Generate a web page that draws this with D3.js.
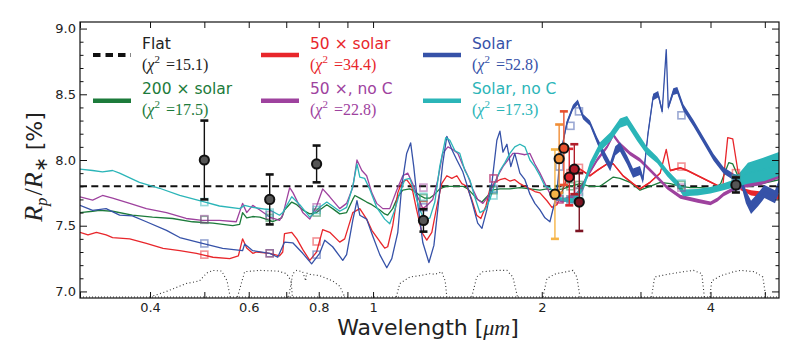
<!DOCTYPE html>
<html>
<head>
<meta charset="utf-8">
<script src="https://cdn.jsdelivr.net/npm/d3@7"></script>
<style>
  body { margin: 0; background: #fff; }
  text { font-family: "DejaVu Sans", sans-serif; }
</style>
</head>
<body>
<div id="chart"></div>
<script>
// model spectra: [wavelength (um), Rp/R* (%), half-width of the noisy band]
const green200 = [[0.300,7.60],[0.316,7.61],[0.325,7.617],[0.343,7.61],[0.372,7.58],[0.404,7.565],[0.439,7.555],[0.476,7.53],[0.518,7.52],[0.562,7.50],[0.578,7.51],[0.585,7.60],[0.595,7.56],[0.610,7.57],[0.628,7.565],[0.654,7.54],[0.662,7.53],[0.687,7.56],[0.695,7.62],[0.716,7.68],[0.731,7.66],[0.749,7.62],[0.771,7.59],[0.793,7.60],[0.803,7.62],[0.827,7.66],[0.847,7.63],[0.872,7.59],[0.897,7.60],[0.920,7.70],[0.928,7.73],[0.947,7.71],[0.974,7.68],[0.995,7.66],[1.028,7.62],[1.049,7.59],[1.062,7.58],[1.084,7.63],[1.107,7.72],[1.130,7.77],[1.163,7.78],[1.187,7.76],[1.212,7.73],[1.237,7.71],[1.263,7.71],[1.289,7.74],[1.315,7.78],[1.348,7.80],[1.400,7.80],[1.446,7.80],[1.476,7.78],[1.506,7.74],[1.537,7.70],[1.564,7.68],[1.596,7.72],[1.630,7.77],[1.684,7.78],[1.754,7.78],[1.828,7.79],[1.905,7.78],[1.985,7.77],[2.043,7.78],[2.111,7.77],[2.182,7.78],[2.246,7.80],[2.340,7.82],[2.438,7.80],[2.541,7.80],[2.683,7.87],[2.758,7.86],[2.874,7.83],[2.994,7.77],[3.120,7.80],[3.253,7.83],[3.391,7.82],[3.534,7.80],[3.683,7.79],[3.840,7.79],[4.051,7.78],[4.170,7.82],[4.311,7.98],[4.383,7.97],[4.475,7.88],[4.531,7.80],[4.725,7.80],[4.930,7.82],[5.30,7.85]];

const red50 = [[0.300,7.45],[0.310,7.43],[0.321,7.45],[0.334,7.43],[0.343,7.41],[0.368,7.40],[0.394,7.365],[0.422,7.327],[0.452,7.31],[0.484,7.29],[0.518,7.26],[0.555,7.25],[0.575,7.27],[0.585,7.40],[0.595,7.33],[0.610,7.29],[0.620,7.30],[0.654,7.29],[0.681,7.27],[0.690,7.30],[0.695,7.44],[0.716,7.45],[0.731,7.40],[0.749,7.32],[0.771,7.236],[0.793,7.30],[0.813,7.47],[0.837,7.45],[0.872,7.375],[0.890,7.40],[0.920,7.60],[0.947,7.63],[0.974,7.55],[0.995,7.465],[1.028,7.38],[1.049,7.33],[1.062,7.34],[1.084,7.50],[1.107,7.75],[1.125,7.83],[1.148,7.85],[1.172,7.80],[1.196,7.62],[1.222,7.45],[1.247,7.39],[1.273,7.45],[1.300,7.65],[1.326,7.82],[1.354,7.88],[1.382,7.86],[1.411,7.88],[1.440,7.82],[1.470,7.80],[1.500,7.70],[1.531,7.58],[1.557,7.555],[1.590,7.65],[1.616,7.78],[1.650,7.83],[1.684,7.85],[1.719,7.86],[1.754,7.84],[1.790,7.85],[1.828,7.82],[1.866,7.80],[1.905,7.78],[1.944,7.76],[1.985,7.75],[2.043,7.69],[2.085,7.64],[2.129,7.66],[2.182,7.78,0.007],[2.246,7.92,0.007],[2.340,7.93,0.007],[2.438,7.88,0.007],[2.510,7.92,0.007],[2.616,7.97,0.007],[2.683,7.97,0.007],[2.792,7.88,0.007],[2.910,7.82,0.007],[2.994,7.78,0.007],[3.120,7.83,0.007],[3.253,7.90,0.007],[3.335,8.08],[3.391,7.92,0.007],[3.534,7.94,0.007],[3.637,7.92,0.007],[3.840,7.87,0.007],[4.051,7.82,0.007],[4.205,7.79],[4.293,8.17],[4.383,8.16],[4.475,7.92],[4.531,7.78,0.01],[4.725,7.75,0.02],[4.930,7.74,0.02],[5.146,7.73,0.02],[5.30,7.72,0.02]];

const purple50noC = [[0.300,7.72],[0.316,7.695],[0.329,7.73],[0.343,7.71],[0.368,7.67],[0.394,7.63],[0.428,7.60],[0.464,7.555],[0.496,7.54],[0.532,7.54],[0.570,7.53],[0.585,7.67],[0.595,7.60],[0.610,7.655],[0.628,7.62],[0.654,7.566],[0.681,7.54],[0.690,7.58],[0.710,7.79],[0.720,7.75],[0.749,7.60],[0.771,7.55],[0.793,7.65],[0.813,7.78],[0.837,7.72],[0.872,7.63],[0.897,7.67],[0.920,7.79],[0.936,8.00],[0.955,7.92],[0.974,7.88],[0.995,7.75],[1.015,7.67],[1.041,7.63],[1.071,7.63],[1.102,7.77],[1.130,7.88],[1.153,7.90],[1.177,7.82],[1.201,7.72],[1.227,7.63],[1.252,7.66],[1.278,7.70],[1.305,7.85],[1.331,8.05],[1.360,8.10],[1.388,8.08],[1.417,8.05],[1.446,7.96],[1.476,7.88],[1.506,7.78],[1.537,7.70],[1.570,7.67],[1.603,7.72],[1.636,7.80],[1.670,7.88],[1.705,7.95],[1.740,8.00],[1.776,8.05],[1.813,8.05],[1.866,8.04],[1.905,8.05],[1.944,7.97],[1.985,7.90],[2.043,7.79],[2.094,7.70],[2.182,7.69,0.015],[2.310,7.74,0.015],[2.408,7.87,0.015],[2.510,8.00,0.015],[2.616,8.10,0.015],[2.683,8.19,0.015],[2.758,8.12,0.015],[2.874,8.05,0.015],[2.994,8.00,0.015],[3.160,7.90,0.015],[3.349,7.79,0.015],[3.534,7.72,0.015],[3.792,7.69,0.015],[4.000,7.67,0.015],[4.118,7.70,0.015],[4.222,7.74,0.015],[4.401,7.78,0.015],[4.626,7.82,0.03],[4.930,7.85,0.04],[5.30,7.90,0.04]];

const blueSolar = [[0.300,7.655],[0.316,7.617],[0.334,7.63],[0.353,7.58],[0.372,7.575],[0.394,7.53],[0.428,7.465],[0.452,7.41],[0.496,7.365],[0.539,7.327],[0.585,7.31],[0.590,7.36],[0.610,7.31],[0.654,7.29],[0.676,7.26],[0.695,7.375],[0.719,7.37],[0.749,7.29],[0.777,7.21],[0.803,7.29],[0.820,7.39],[0.847,7.34],[0.883,7.236],[0.897,7.28],[0.920,7.54],[0.936,7.69],[0.947,7.58],[0.974,7.55],[0.999,7.42],[1.028,7.28],[1.058,7.18],[1.080,7.25],[1.107,7.45],[1.125,7.80],[1.148,8.05],[1.167,8.13],[1.182,7.95],[1.201,7.67],[1.227,7.37],[1.258,7.22],[1.284,7.35],[1.305,7.63],[1.331,7.97],[1.354,8.18],[1.382,8.08],[1.411,8.00],[1.446,7.91],[1.476,7.79],[1.506,7.66],[1.537,7.52],[1.564,7.48],[1.596,7.62],[1.630,7.83],[1.663,8.15],[1.684,8.22],[1.705,8.06],[1.733,8.12],[1.761,7.95],[1.790,8.05],[1.828,7.90],[1.866,7.85],[1.905,7.74],[1.944,7.67],[1.985,7.62],[2.026,7.56],[2.068,7.53],[2.129,7.75,0.015],[2.155,8.02,0.015],[2.217,8.28,0.02],[2.273,8.40,0.02],[2.319,8.44,0.02],[2.369,8.33,0.02],[2.438,8.28,0.02],[2.510,8.15,0.025],[2.573,8.05,0.035],[2.649,7.95,0.035],[2.705,8.07,0.035],[2.758,8.10,0.035],[2.839,8.00,0.035],[2.910,7.90,0.035],[2.994,7.92,0.035],[3.031,7.85,0.03],[3.094,8.20,0.025],[3.160,8.48,0.025],[3.226,8.50,0.025],[3.280,8.37,0.02],[3.335,8.84,0.005],[3.363,8.40,0.02],[3.433,8.52,0.025],[3.490,8.53,0.025],[3.578,8.40,0.025],[3.730,8.28,0.025],[3.887,8.15,0.025],[4.051,8.02,0.025],[4.222,7.92,0.025],[4.401,7.87,0.025],[4.531,7.845,0.03],[4.626,7.72,0.05],[4.725,7.64,0.05],[4.867,7.70,0.05],[4.993,7.76,0.05],[5.213,7.72,0.05],[5.30,7.80,0.05]];

const cyanSolarNoC = [[0.300,7.93],[0.316,7.92],[0.329,7.91],[0.343,7.92],[0.353,7.90],[0.383,7.83],[0.416,7.785],[0.452,7.73],[0.496,7.685],[0.532,7.65],[0.578,7.63],[0.590,7.655],[0.610,7.64],[0.654,7.62],[0.681,7.58],[0.690,7.60],[0.716,7.72],[0.740,7.66],[0.771,7.565],[0.803,7.64],[0.827,7.68],[0.872,7.61],[0.897,7.64],[0.920,7.80],[0.936,7.97],[0.947,7.87],[0.966,7.86],[0.986,7.78],[1.015,7.64],[1.049,7.55],[1.071,7.515],[1.093,7.62],[1.116,7.75],[1.139,7.85],[1.163,7.86],[1.187,7.75],[1.212,7.62],[1.237,7.54],[1.263,7.56],[1.289,7.68],[1.315,7.95],[1.348,8.17],[1.371,8.15],[1.400,8.07],[1.428,8.05],[1.458,7.92],[1.488,7.85],[1.518,7.72],[1.551,7.60],[1.583,7.62],[1.616,7.70],[1.650,7.82],[1.684,7.92],[1.719,7.98],[1.754,8.05],[1.790,8.10],[1.828,8.12],[1.866,8.10],[1.905,8.00],[1.944,7.95],[1.985,7.88],[2.026,7.80],[2.068,7.79],[2.129,7.72],[2.182,7.70,0.015],[2.273,7.69,0.02],[2.369,7.79,0.025],[2.438,7.95,0.035],[2.541,8.10,0.035],[2.649,8.175,0.035],[2.758,8.28,0.035],[2.839,8.30,0.035],[2.959,8.18,0.035],[3.081,8.07,0.03],[3.213,8.00,0.025],[3.349,7.90,0.025],[3.490,7.82,0.025],[3.578,7.75,0.025],[3.792,7.755,0.025],[4.000,7.77,0.025],[4.170,7.79,0.025],[4.401,7.82,0.03],[4.665,7.90,0.08],[4.993,7.93,0.09],[5.30,7.97,0.09]];

const flatLevel = 7.8;

// binned model values at the observed bands
const bandWl = [0.50, 0.654, 0.793, 1.23, 1.64, 2.15, 2.25, 2.33, 3.55, 4.44];
const binGreen = [7.545, 7.56, 7.60, 7.71, 7.77, 7.78, 7.80, 7.81, 7.81, 7.85];
const binRed = [7.28, 7.29, 7.38, 7.66, 7.86, 7.70, 7.90, 7.94, 7.95, 7.90];
const binPurple = [7.55, 7.58, 7.64, 7.79, 7.86, 7.70, 7.70, 7.76, 7.79, 7.82];
const binBlue = [7.365, 7.29, 7.28, 7.64, 7.78, 7.95, 8.26, 8.37, 8.34, 7.80];
const binCyan = [7.68, 7.60, 7.62, 7.72, 7.73, 7.72, 7.70, 7.72, 7.82, 7.86];

// photometric measurements
const obsWl = [0.50, 0.654, 0.793, 1.23, 4.44];
const obsVal = [8.00, 7.70, 7.97, 7.54, 7.81];
const obsErr = [0.30, 0.19, 0.14, 0.085, 0.057];

// narrow-band K measurements
const kWl = [2.111, 2.148, 2.19, 2.239, 2.286, 2.333];
const kVal = [7.74, 8.01, 8.09, 7.87, 7.93, 7.68];
const kErr = [0.34, 0.26, 0.28, 0.215, 0.19, 0.22];
const kColors = ["#f6b447", "#f08d35", "#e8502e", "#de2630", "#b01d2b", "#7c1322"];

// filter transmission curves (drawn at the bottom)
const filterCurves = [
  [[0.400,6.958],[0.428,7.00],[0.464,7.06],[0.490,7.08],[0.505,7.14],[0.518,7.16],[0.537,7.155],[0.549,7.08],[0.556,6.958]],
  [[0.573,6.958],[0.590,7.15],[0.628,7.16],[0.676,7.155],[0.701,7.135],[0.714,7.08],[0.718,6.958]],
  [[0.707,6.958],[0.719,7.135],[0.731,7.16],[0.749,7.15],[0.758,7.08],[0.761,7.14],[0.771,7.13],[0.803,7.12],[0.847,7.08],[0.872,7.04],[0.890,6.958]],
  [[1.100,6.958],[1.116,7.06],[1.163,7.11],[1.212,7.12],[1.263,7.135],[1.290,7.13],[1.326,7.15],[1.345,7.08],[1.354,6.958]],
  [[1.500,6.958],[1.531,7.11],[1.570,7.15],[1.663,7.16],[1.733,7.16],[1.776,7.11],[1.810,6.958]],
  [[2.010,6.958],[2.043,7.10],[2.120,7.135],[2.217,7.15],[2.273,7.16],[2.310,7.11],[2.340,6.958]],
  [[3.140,6.958],[3.180,7.11],[3.350,7.13],[3.580,7.15],[3.730,7.16],[3.860,7.135],[3.900,6.958]],
  [[3.990,6.958],[4.020,7.08],[4.170,7.12],[4.400,7.15],[4.530,7.16],[4.790,7.15],[4.960,7.11],[5.020,6.958]]
];

const xTicks = [0.3,0.4,0.5,0.6,0.7,0.8,0.9,1,2,3,4,5];
const xLabels = [0.4,0.6,0.8,1,2,4];

const series = [
  {name: "200 \u00d7 solar", chi: "17.5", color: "#1c7b3b", data: green200, bins: binGreen},
  {name: "50 \u00d7 solar", chi: "34.4", color: "#e8262b", data: red50, bins: binRed},
  {name: "50 \u00d7, no C", chi: "22.8", color: "#9e429e", data: purple50noC, bins: binPurple},
  {name: "Solar", chi: "52.8", color: "#3652a8", data: blueSolar, bins: binBlue},
  {name: "Solar, no C", chi: "17.3", color: "#2bb5b8", data: cyanSolarNoC, bins: binCyan}
];

const W = 797, H = 354;
const margin = {top: 22, right: 18, bottom: 56, left: 80};
const x = d3.scaleLog().domain([0.3, 5.3]).range([margin.left, W - margin.right]);
const y = d3.scaleLinear().domain([6.95, 9.05]).range([H - margin.bottom, margin.top]);

const svg = d3.select("#chart").append("svg")
  .attr("width", W).attr("height", H);

svg.append("defs").append("clipPath").attr("id", "plot")
  .append("rect")
  .attr("x", margin.left).attr("y", margin.top)
  .attr("width", W - margin.left - margin.right)
  .attr("height", H - margin.top - margin.bottom);

const plot = svg.append("g").attr("clip-path", "url(#plot)");

// filter curves
const fLine = d3.line().x(d => x(d[0])).y(d => y(d[1]));
plot.append("line")
  .attr("x1", x(0.3)).attr("x2", x(5.3))
  .attr("y1", y(6.958)).attr("y2", y(6.958))
  .attr("stroke", "#333").attr("stroke-width", 1.1).attr("stroke-dasharray", "1,2");
plot.selectAll("path.filter")
  .data(filterCurves)
  .enter().append("path")
    .attr("class", "filter")
    .attr("d", fLine)
    .attr("fill", "none")
    .attr("stroke", "#333")
    .attr("stroke-width", 1.1)
    .attr("stroke-dasharray", "1,2.5");

// flat model
plot.append("line")
  .attr("x1", x(0.3)).attr("x2", x(5.3))
  .attr("y1", y(flatLevel)).attr("y2", y(flatLevel))
  .attr("stroke", "#111").attr("stroke-width", 2)
  .attr("stroke-dasharray", "7,4.3");

// model spectra
const band = d3.area()
  .x(d => x(d[0]))
  .y0(d => y(d[1] - (d[2] || 0)))
  .y1(d => y(d[1] + (d[2] || 0)));
const mLine = d3.line().x(d => x(d[0])).y(d => y(d[1]));

series.forEach(s => {
  const g = plot.append("g");
  g.append("path").attr("d", band(s.data)).attr("fill", s.color).attr("stroke", "none");
  g.append("path").attr("d", mLine(s.data))
    .attr("fill", "none").attr("stroke", s.color)
    .attr("stroke-width", 1.3).attr("stroke-linejoin", "round");
});

// binned model squares
series.forEach(s => {
  plot.append("g").selectAll("rect")
    .data(bandWl.map((w, i) => [w, s.bins[i]]))
    .enter().append("rect")
      .attr("x", d => x(d[0]) - 3.5)
      .attr("y", d => y(d[1]) - 3.5)
      .attr("width", 7).attr("height", 7)
      .attr("fill", "none")
      .attr("stroke", s.color)
      .attr("stroke-opacity", 0.5)
      .attr("stroke-width", 1.6);
});

// error bars
function errorBars(wl, val, err, colorOf, fill) {
  const pts = wl.map((w, i) => ({w: w, v: val[i], e: err[i], i: i}));
  const g = plot.append("g");
  g.selectAll("line.bar").data(pts).enter().append("line")
    .attr("x1", d => x(d.w)).attr("x2", d => x(d.w))
    .attr("y1", d => y(d.v - d.e)).attr("y2", d => y(d.v + d.e))
    .attr("stroke", d => colorOf(d.i)).attr("stroke-width", 1.4);
  ["lo", "hi"].forEach(k => {
    g.selectAll("line.cap" + k).data(pts).enter().append("line")
      .attr("x1", d => x(d.w) - 4).attr("x2", d => x(d.w) + 4)
      .attr("y1", d => y(k === "lo" ? d.v - d.e : d.v + d.e))
      .attr("y2", d => y(k === "lo" ? d.v - d.e : d.v + d.e))
      .attr("stroke", d => colorOf(d.i)).attr("stroke-width", 2.6);
  });
  g.selectAll("circle").data(pts).enter().append("circle")
    .attr("cx", d => x(d.w)).attr("cy", d => y(d.v)).attr("r", 4.6)
    .attr("fill", d => fill(d.i))
    .attr("stroke", "#111").attr("stroke-width", 2);
}
errorBars(obsWl, obsVal, obsErr, () => "#111", () => "#555");
errorBars(kWl, kVal, kErr, i => kColors[i], i => kColors[i]);

// axes
const x0 = margin.left, x1 = W - margin.right, y0 = H - margin.bottom, y1 = margin.top;
const yMajor = d3.range(7.0, 9.01, 0.5);
const yMinor = d3.range(7.0, 9.05, 0.1).filter(v => Math.abs(v * 2 - Math.round(v * 2)) > 0.01);

const fmtX = d => xLabels.some(l => Math.abs(l - d) < 1e-9) ? d3.format("")(d) : "";

svg.append("g").attr("transform", `translate(0,${y0})`)
  .call(d3.axisBottom(x).tickValues(xTicks).tickFormat(fmtX).tickSizeInner(-6).tickSizeOuter(0).tickPadding(5))
  .call(g => g.select(".domain").remove());
svg.append("g").attr("transform", `translate(0,${y1})`)
  .call(d3.axisTop(x).tickValues(xTicks).tickFormat("").tickSizeInner(-6).tickSizeOuter(0))
  .call(g => g.select(".domain").remove());
svg.append("g").attr("transform", `translate(${x0},0)`)
  .call(d3.axisLeft(y).tickValues(yMajor).tickFormat(d3.format(".1f")).tickSizeInner(-7).tickSizeOuter(0).tickPadding(4))
  .call(g => g.select(".domain").remove());
svg.append("g").attr("transform", `translate(${x0},0)`)
  .call(d3.axisLeft(y).tickValues(yMinor).tickFormat("").tickSizeInner(-3.5).tickSizeOuter(0))
  .call(g => g.select(".domain").remove());
svg.append("g").attr("transform", `translate(${x1},0)`)
  .call(d3.axisRight(y).tickValues(yMajor).tickFormat("").tickSizeInner(-7).tickSizeOuter(0))
  .call(g => g.select(".domain").remove());
svg.append("g").attr("transform", `translate(${x1},0)`)
  .call(d3.axisRight(y).tickValues(yMinor).tickFormat("").tickSizeInner(-3.5).tickSizeOuter(0))
  .call(g => g.select(".domain").remove());

svg.selectAll(".tick line").attr("stroke", "#111").attr("stroke-width", 1);
svg.selectAll(".tick text")
  .style("font-family", "'DejaVu Sans', sans-serif")
  .style("font-size", "13px").attr("fill", "#222");

svg.append("rect")
  .attr("x", x0).attr("y", y1).attr("width", x1 - x0).attr("height", y0 - y1)
  .attr("fill", "none").attr("stroke", "#111").attr("stroke-width", 1.2);

// axis titles
const xt = svg.append("text")
  .attr("x", 428).attr("y", 335).attr("text-anchor", "middle")
  .attr("fill", "#222").style("font-size", "22px");
xt.append("tspan").text("Wavelength [");
xt.append("tspan").style("font-family", "'Liberation Serif', serif").style("font-style", "italic").text("\u03bcm");
xt.append("tspan").text("]");

const yt = svg.append("text")
  .attr("transform", "translate(42,167) rotate(-90)")
  .attr("text-anchor", "middle").attr("fill", "#222");
const serif = "'Liberation Serif', serif";
yt.append("tspan").style("font-family", serif).style("font-style", "italic").style("font-size", "26px").text("R");
yt.append("tspan").style("font-family", serif).style("font-style", "italic").style("font-size", "17px").attr("dy", 5).text("p");
yt.append("tspan").style("font-family", serif).style("font-size", "26px").attr("dy", -5).attr("dx", 2).text("/");
yt.append("tspan").style("font-family", serif).style("font-style", "italic").style("font-size", "26px").text("R");
yt.append("tspan").style("font-family", serif).style("font-size", "18px").attr("dy", 5).text("\u2217");
yt.append("tspan").style("font-size", "22px").attr("dy", -5).text(" [%]");

// legend
const legendItems = [{name: "Flat", chi: "15.1", color: "#222", dash: true}].concat(series);
const colX = [93, 261, 423];
const rowY = [55, 100.7];
legendItems.forEach((s, i) => {
  const cx = colX[Math.floor(i / 2)], cy = rowY[i % 2];
  const g = svg.append("g");
  g.append("line")
    .attr("x1", cx).attr("x2", cx + 38).attr("y1", cy).attr("y2", cy)
    .attr("stroke", s.dash ? "#111" : s.color)
    .attr("stroke-width", s.dash ? 4 : 4.5)
    .attr("stroke-dasharray", s.dash ? "7.5,5" : null);
  g.append("text")
    .attr("x", cx + 49).attr("y", cy - 6.5)
    .attr("fill", s.color).style("font-size", "15.5px")
    .text(s.name);
  const t = g.append("text")
    .attr("x", cx + 49).attr("y", cy + 14.5)
    .attr("fill", s.color)
    .style("font-family", serif).style("font-size", "16px");
  t.append("tspan").text("(");
  t.append("tspan").style("font-style", "italic").text("\u03c7");
  t.append("tspan").attr("dy", -7).style("font-size", "11px").text("2");
  t.append("tspan").attr("dy", 7).attr("dx", 6).text("=" + s.chi + ")");
});
</script>
</body>
</html>
